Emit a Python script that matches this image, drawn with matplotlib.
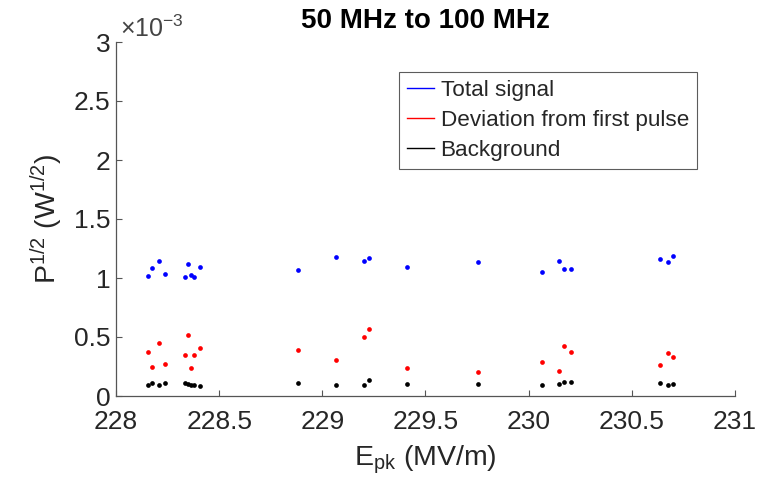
import matplotlib
matplotlib.use("Agg")
import matplotlib.pyplot as plt
from matplotlib.lines import Line2D
from matplotlib.ticker import FuncFormatter, MultipleLocator

plt.rcParams['font.family'] = ['Liberation Sans', 'DejaVu Sans']
plt.rcParams['mathtext.fontset'] = 'custom'
plt.rcParams['mathtext.rm'] = 'Liberation Sans'
plt.rcParams['mathtext.it'] = 'Liberation Sans:italic'
plt.rcParams['mathtext.bf'] = 'Liberation Sans:bold'
plt.rcParams['axes.unicode_minus'] = False

# Peak surface field (MV/m)
e_pk = [228.154, 228.175, 228.209, 228.236, 228.333, 228.351, 228.362, 228.379,
        228.408, 228.884, 229.068, 229.202, 229.224, 229.410, 229.754, 230.067,
        230.148, 230.169, 230.204, 230.638, 230.674, 230.701]

# Square-root power (W^1/2)
total_signal = [1.019e-3, 1.087e-3, 1.144e-3, 1.031e-3, 1.011e-3, 1.116e-3, 1.028e-3,
                1.011e-3, 1.093e-3, 1.068e-3, 1.181e-3, 1.144e-3, 1.172e-3, 1.096e-3,
                1.133e-3, 1.051e-3, 1.147e-3, 1.076e-3, 1.074e-3, 1.161e-3, 1.138e-3,
                1.189e-3]
deviation = [0.375e-3, 0.243e-3, 0.447e-3, 0.271e-3, 0.345e-3, 0.514e-3, 0.235e-3,
             0.350e-3, 0.404e-3, 0.392e-3, 0.303e-3, 0.500e-3, 0.565e-3, 0.235e-3,
             0.201e-3, 0.291e-3, 0.209e-3, 0.426e-3, 0.370e-3, 0.263e-3, 0.362e-3,
             0.333e-3]
background = [0.093e-3, 0.113e-3, 0.096e-3, 0.110e-3, 0.110e-3, 0.099e-3, 0.091e-3,
              0.091e-3, 0.082e-3, 0.108e-3, 0.091e-3, 0.091e-3, 0.138e-3, 0.099e-3,
              0.099e-3, 0.096e-3, 0.104e-3, 0.116e-3, 0.121e-3, 0.108e-3, 0.091e-3,
              0.099e-3]

series_labels = ['Total signal', 'Deviation from first pulse', 'Background']
series_colors = ['#0000ff', '#ff0000', '#000000']

W, H = 774, 483
fig = plt.figure(figsize=(W / 100, H / 100), dpi=100)
ax = fig.add_axes([116 / W, 1 - 396 / H, 619 / W, 354 / H])

for vals, col in zip([total_signal, deviation, background], series_colors):
    ax.plot(e_pk, vals, linestyle='none', marker='o', markersize=3.4,
            markerfacecolor=col, markeredgecolor='none')

axcol = '#262626'
ax.set_xlim(228, 231)
ax.set_ylim(0, 3e-3)
ax.xaxis.set_major_locator(MultipleLocator(0.5))
ax.yaxis.set_major_locator(MultipleLocator(0.5e-3))
ax.xaxis.set_major_formatter(FuncFormatter(lambda v, _: f'{v:g}'))
ax.yaxis.set_major_formatter(FuncFormatter(lambda v, _: f'{v * 1e3:g}'))
ax.tick_params(direction='in', length=4, width=0.8, colors='#555555',
               labelcolor=axcol, labelsize=19, pad=4)
ax.tick_params(axis='x', pad=10)
for side in ('top', 'right'):
    ax.spines[side].set_visible(False)
for side in ('left', 'bottom'):
    ax.spines[side].set_color('#555555')
    ax.spines[side].set_linewidth(0.9)

ax.text(0.006, 1.0, r'$\times$10$^{-3}$', transform=ax.transAxes, ha='left',
        va='bottom', fontsize=18, color='#444444')

ax.set_title('50 MHz to 100 MHz', fontsize=20, fontweight='bold', pad=10, color='#000000')
ax.set_xlabel(r'E$_{\rm pk}$ (MV/m)', fontsize=20.5, color=axcol, labelpad=7)
ax.set_ylabel(r'P$^{1/2}$ (W$^{1/2}$)', fontsize=20.5, color=axcol, labelpad=6)

handles = [Line2D([], [], color=c, linewidth=1.0) for c in series_colors]
leg = ax.legend(handles, series_labels, loc='upper left', bbox_to_anchor=(0.457, 0.915),
                borderaxespad=0, fontsize=16.2, frameon=True, fancybox=False,
                handlelength=1.2, handletextpad=0.3, borderpad=0.35, labelspacing=0.4)
leg.get_frame().set_edgecolor('#333333')
leg.get_frame().set_linewidth(0.8)
for t in leg.get_texts():
    t.set_color(axcol)

fig.savefig('out.png', dpi=100)
